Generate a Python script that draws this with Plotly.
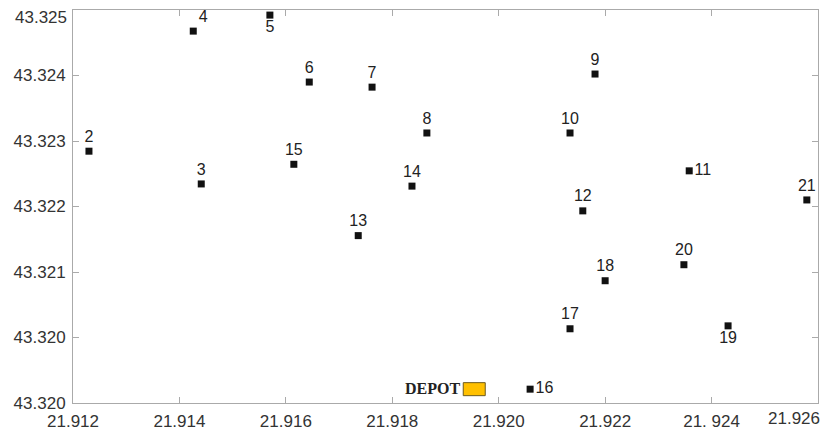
import plotly.graph_objects as go

# Customer nodes
node_ids = ["2", "3", "4", "5", "6", "7", "8", "9", "10", "11", "12", "13", "14", "15", "16", "17", "18", "19", "20", "21"]
lon = [21.91230, 21.91441, 21.91426, 21.91570, 21.91644, 21.91762, 21.91865, 21.92181, 21.92134, 21.92358,
       21.92158, 21.91736, 21.91837, 21.91615, 21.92059, 21.92134, 21.92200, 21.92431, 21.92348, 21.92579]
lat = [43.32306, 43.32261, 43.32471, 43.32493, 43.32401, 43.32394, 43.32331, 43.32412, 43.32331, 43.32279,
       43.32224, 43.32190, 43.32258, 43.32288, 43.31979, 43.32062, 43.32128, 43.32066, 43.32150, 43.32239]
label_pos = ["top center", "top center", "top right", "bottom center", "top center", "top center", "top center",
             "top center", "top center", "middle right", "top center", "top center", "top center", "top center",
             "middle right", "top center", "top center", "bottom center", "top center", "top center"]

# Depot
depot_name = "DEPOT"
depot_lon = 21.91954
depot_lat = 43.31979

# Axes
x_tickvals = [21.912, 21.914, 21.916, 21.918, 21.920, 21.922, 21.924, 21.926]
x_ticktext = ["21.912", "21.914", "21.916", "21.918", "21.920", "21.922", "21. 924", "21.926"]
y_tickvals = [43.3250, 43.3241, 43.3232, 43.3223, 43.3214, 43.3205, 43.3196]
y_ticktext = ["43.325", "43.324", "43.323", "43.322", "43.321", "43.320", "43.320"]

font_sans = "Arial, Liberation Sans, sans-serif"
tick_font = dict(family=font_sans, size=17, color="#333333")

fig = go.Figure()
fig.add_trace(go.Scatter(
    x=lon, y=lat, mode="markers+text", text=node_ids, textposition=label_pos,
    marker=dict(symbol="square", size=7, color="#111111"),
    textfont=dict(family=font_sans, size=16, color="#222222"),
    cliponaxis=False, hoverinfo="skip", showlegend=False,
))

fig.add_shape(type="rect", xref="x", yref="y", xsizemode="pixel", ysizemode="pixel",
              xanchor=depot_lon, yanchor=depot_lat, x0=-11, x1=11, y0=-6.5, y1=6.5,
              fillcolor="#FFC000", line=dict(color="#6b5a1e", width=1))
fig.add_annotation(x=depot_lon, y=depot_lat, text="<b>" + depot_name + "</b>", showarrow=False,
                   xanchor="right", yanchor="middle", xshift=-12, yshift=1,
                   font=dict(family="Liberation Serif, Times New Roman, serif", size=16, color="#222222"))

axis_common = dict(showgrid=False, zeroline=False, showline=True, linecolor="#aaaaaa", linewidth=1,
                   mirror="ticks", ticks="inside", ticklen=6, tickcolor="#aaaaaa", automargin=False,
                   ticklabeloverflow="allow", ticklabelstandoff=3, tickfont=tick_font)

# x axis: last label drawn as annotation so it stays inside the page edge
fig.update_xaxes(range=[x_tickvals[0], x_tickvals[-1]], tickmode="array",
                 tickvals=x_tickvals[:-1], ticktext=x_ticktext[:-1], **axis_common)
fig.add_annotation(x=x_tickvals[-1], y=0, xref="x", yref="paper", text=x_ticktext[-1], showarrow=False,
                   xanchor="right", yanchor="top", xshift=4, yshift=-4, font=tick_font)

# y axis: top label drawn as annotation so it stays inside the page top
fig.update_yaxes(range=[y_tickvals[-1], y_tickvals[0]], tickmode="array",
                 tickvals=y_tickvals, ticktext=[""] + y_ticktext[1:], **axis_common)
fig.add_annotation(x=0, y=y_tickvals[0], xref="paper", yref="y", text=y_ticktext[0], showarrow=False,
                   xanchor="right", yanchor="middle", xshift=-4, yshift=-7, font=tick_font)

# page body has an 8px margin, so the figure is offset by (8, 8)
fig.update_layout(width=820, height=422, margin=dict(l=65, r=10, t=2, b=27),
                  plot_bgcolor="white", paper_bgcolor="white")

fig.write_html("out.html")
